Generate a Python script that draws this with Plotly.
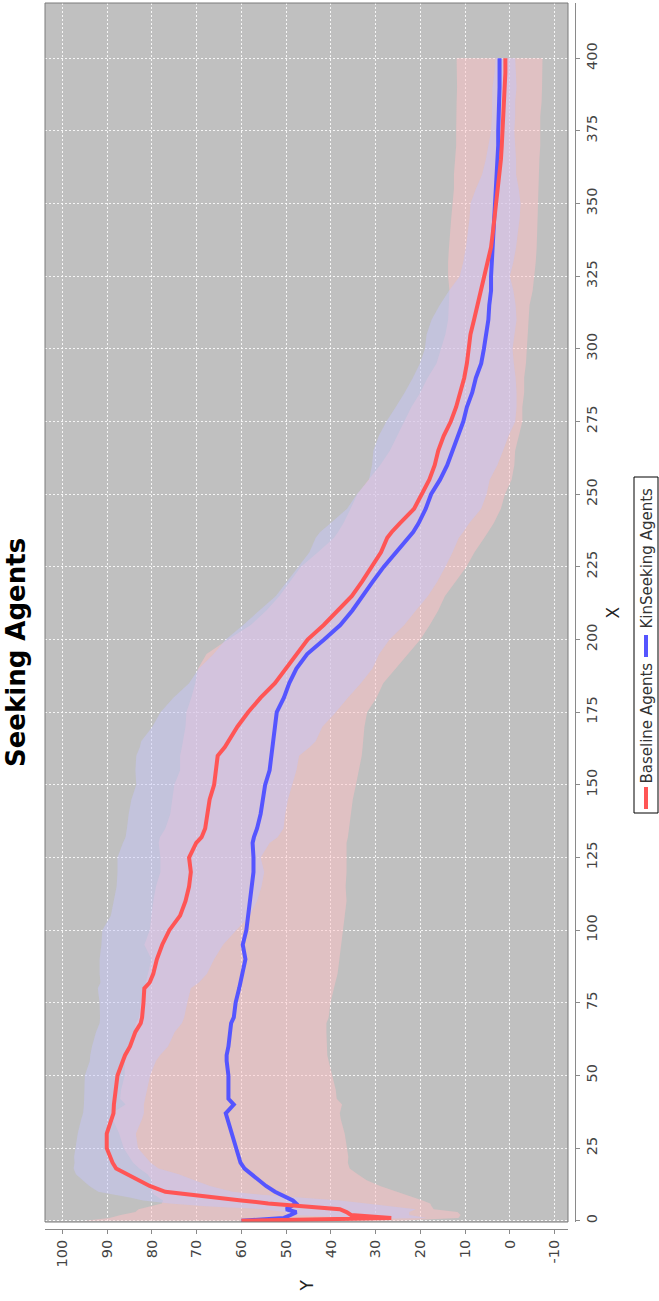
import numpy as np
import plotly.graph_objects as go

# ---- data ----
steps = [0, 1, 2, 3, 4, 5, 6, 7, 8, 9, 10, 12, 14, 16, 18, 20, 22, 25, 30, 35, 37, 40, 42, 45,
         50, 55, 57, 60, 65, 68, 70, 75, 80, 82, 85, 90, 95, 100, 105, 110, 115, 120, 125,
         130, 132, 135, 140, 145, 150, 155, 160, 163, 165, 170, 175, 180, 185, 190, 195, 200,
         205, 210, 215, 220, 225, 230, 235, 237, 240, 245, 250, 255, 260, 265, 270, 275, 280,
         285, 290, 295, 300, 305, 310, 315, 320, 325, 330, 335, 340, 345, 350, 355, 360, 365,
         370, 375, 380, 385, 390, 395, 400]

baseline_mean = [60, 26.5, 35.5, 36.5, 38, 47, 54, 60, 66, 72, 77, 80.5, 83, 85.5, 88, 88.8, 89.4,
                 90.1, 90.1, 89, 88.6, 88.5, 88.3, 88.1, 87.7, 86.5, 86, 84.9, 83.7, 82.5, 82.2,
                 81.9, 81.7, 80.5, 79.7, 78.9, 77.7, 76.1, 73.7, 72.5, 71.7, 71.3, 71.7, 70.1,
                 68.9, 68.1, 67.7, 67.1, 66.1, 65.7, 65.3, 63.7, 62.9, 60.9, 58.5, 55.7, 52.5,
                 50.1, 47.7, 45.2, 41.6, 38.5, 35.3, 33.0, 30.9, 28.8, 27.4, 26.4, 24.6, 21.4,
                 19.7, 18.0, 16.8, 16.0, 14.8, 13.2, 12.0, 11.0, 10.2, 9.6, 9.2, 8.8, 8.0, 7.2,
                 6.4, 5.6, 4.8, 4.2, 3.8, 3.4, 3.2, 2.8, 2.4, 2.0, 1.8, 1.6, 1.4, 1.4, 1.2, 1.0, 1.0]
baseline_std = [0.5, 8, 13, 14, 17, 21, 22, 22, 19, 16.5, 15, 13.5, 12.5, 11.5, 9.5, 8.5, 8, 7,
                6.5, 6.8, 6.8, 6.7, 6.8, 7, 7.3, 7.4, 7.8, 8.5, 8.8, 9.2, 9.4, 9.8, 10.4, 11, 12,
                12.8, 13.6, 15, 15.5, 16, 16.2, 16.4, 16, 16.4, 17, 17.5, 17.5, 17.5, 17.4, 18,
                18.2, 19, 19.5, 19, 19.6, 19.5, 19.2, 19.4, 18.5, 18.3, 18, 17.5, 17, 16.8, 16.5,
                16, 16, 16, 15.5, 15, 14.5, 13.5, 14, 14.5, 14.5, 14.4, 13.5, 12.5, 11.5, 10.5,
                9.8, 9.8, 9.5, 8.5, 7.2, 5.6, 5.6, 5.6, 5.6, 5.6, 5.6, 4.8, 3.8, 3.4, 3.0, 2.6,
                2.6, 2.6, 2.7, 2.4, 2.2]

kin_mean = [60, 50.5, 49, 47.7, 50, 49, 47.8, 48.5, 50, 51.5, 52.5, 54.5, 56, 57.5, 59.3, 60.2,
            60.6, 61.3, 62.1, 63.3, 63.5, 61.7, 62.9, 62.9, 62.9, 63.3, 63.3, 62.9, 62.5, 62.3,
            61.7, 61.3, 60.5, 60.2, 59.7, 59.1, 59.7, 58.9, 58.5, 58.1, 57.9, 57.3, 57.3, 57.5,
            57.2, 56.5, 55.7, 55.3, 54.7, 53.7, 53.4, 53.1, 52.9, 52.5, 52.1, 50.5, 49.3, 47.7,
            45.3, 41.5, 37.9, 35.2, 33.0, 30.6, 28.2, 25.4, 22.5, 21.6, 20.4, 18.8, 17.6, 15.6,
            14.0, 12.8, 11.6, 10.4, 9.6, 8.4, 7.6, 6.4, 5.8, 5.2, 4.8, 4.6, 4.2, 4.2, 4.0, 3.8,
            3.6, 3.4, 3.2, 3.0, 3.0, 2.8, 2.6, 2.6, 2.6, 2.4, 2.3, 2.3, 2.3]
kin_std = [35, 39, 38, 36, 33, 31.5, 30, 29, 28.5, 28, 27.5, 25.5, 24, 23.5, 23.5, 24, 24.5, 25,
           25.2, 25.5, 25.5, 24.2, 24.2, 24, 23.2, 22.8, 22.5, 22, 21.5, 21.3, 21.2, 21.2, 21.2,
           21.2, 21.2, 21, 22, 21.6, 21.6, 21.6, 21.2, 20.8, 20.8, 21, 21, 20.5, 20.2, 20.2,
           20.3, 20, 20.3, 20.2, 20.2, 20, 20.2, 20.7, 21, 22, 22.5, 21.5, 20, 19.2, 18.5, 18.5,
           18.5, 17.5, 16.8, 16.8, 16.8, 16.8, 16.5, 16, 15, 14, 13.6, 13.2, 12.4, 11.6, 10.8,
           10, 9.6, 9.2, 9, 9, 9.3, 9.6, 9.8, 9.8, 9.8, 9.7, 9.6, 9.5, 9.5, 9.4, 9.4, 9.4, 9.4,
           9.5, 9.5, 9.6, 9.6]

y_ticks = list(range(-10, 101, 10))
x_ticks = list(range(0, 401, 25))

series_names = ["Baseline Agents", "KinSeeking Agents"]
line_colors = ["#FF5555", "#5555FF"]
band_colors = ["rgba(198,198,248,0.5)", "rgba(255,194,198,0.5)"]

# ---- figure geometry (page pixels) ----
W, H = 659, 1301
ML, MR, MT, MB = 45, 84, 3, 72
PW = W - ML - MR
PH = H - MT - MB


def px(xpix):
    return (xpix - ML) / PW


def py(ypix):
    return (H - MB - ypix) / PH


X = np.array(steps, dtype=float)
bm, bs = np.array(baseline_mean), np.array(baseline_std)
km, ks = np.array(kin_mean), np.array(kin_std)

fig = go.Figure()


def band(mean, std, color):
    hi = mean + std
    lo = mean - std
    return go.Scatter(x=np.concatenate([hi, lo[::-1]]), y=np.concatenate([X, X[::-1]]),
                      fill="toself", fillcolor=color, mode="lines",
                      line=dict(width=0, color="rgba(0,0,0,0)"),
                      hoverinfo="skip", showlegend=False)


fig.add_trace(band(km, ks, band_colors[1]))
fig.add_trace(band(bm, bs, band_colors[0]))
fig.add_trace(go.Scatter(x=km, y=X, mode="lines", name=series_names[1],
                         line=dict(color=line_colors[1], width=4), showlegend=False))
fig.add_trace(go.Scatter(x=bm, y=X, mode="lines", name=series_names[0],
                         line=dict(color=line_colors[0], width=4), showlegend=False))

tickfont = dict(family="DejaVu Sans", size=14.5, color="#444444")
axis_common = dict(showline=True, linecolor="#8a8a8a", linewidth=1, ticks="outside",
                   ticklen=4, tickcolor="#8a8a8a", tickangle=-90, tickfont=tickfont,
                   showgrid=True, gridcolor="rgba(255,255,255,0.85)", gridwidth=1,
                   griddash="2px,2px", zeroline=False, anchor="free")

fig.update_layout(
    width=W, height=H,
    margin=dict(l=ML, r=MR, t=MT, b=MB, pad=0),
    paper_bgcolor="white", plot_bgcolor="#C0C0C0",
    showlegend=False,
    xaxis=dict(domain=[0, px(568)], range=[103.9, -13.0], position=0,
               tickvals=y_ticks, ticktext=[str(v) for v in y_ticks], **axis_common),
    yaxis=dict(domain=[py(1222), 1], range=[-0.4, 419], position=1, side="right",
               tickvals=x_ticks, ticktext=[str(v) for v in x_ticks], **axis_common),
)

# plot border
fig.add_shape(type="rect", xref="x domain", yref="y domain", x0=0, x1=1, y0=0, y1=1,
              line=dict(color="#7a7a7a", width=1), fillcolor="rgba(0,0,0,0)", layer="above")

# titles
fig.add_annotation(text="<b>Seeking Agents</b>", xref="paper", yref="paper", x=px(16), y=py(653),
                   textangle=-90, showarrow=False, xanchor="center", yanchor="middle",
                   font=dict(family="DejaVu Sans", size=26, color="black"))
fig.add_annotation(text="X", xref="paper", yref="y domain", x=px(612), y=0.5, textangle=-90,
                   showarrow=False, xanchor="center", yanchor="middle",
                   font=dict(family="DejaVu Sans", size=17, color="#222222"))
fig.add_annotation(text="Y", xref="x domain", yref="paper", x=0.5, y=py(1286), textangle=-90,
                   showarrow=False, xanchor="center", yanchor="middle",
                   font=dict(family="DejaVu Sans", size=17, color="#222222"))

# legend (rotated, drawn manually)
fig.add_shape(type="rect", xref="paper", yref="paper", x0=px(634), x1=px(658), y0=py(813),
              y1=py(477), line=dict(color="black", width=1), fillcolor="white", layer="above")
fig.add_shape(type="line", xref="paper", yref="paper", x0=px(646), x1=px(646), y0=py(809),
              y1=py(787), line=dict(color=line_colors[0], width=4), layer="above")
fig.add_shape(type="line", xref="paper", yref="paper", x0=px(646), x1=px(646), y0=py(657),
              y1=py(635), line=dict(color=line_colors[1], width=4), layer="above")
legfont = dict(family="DejaVu Sans", size=15, color="#333333")
fig.add_annotation(text=series_names[0], xref="paper", yref="paper", x=px(646), y=py(661),
                   textangle=-90, showarrow=False, xanchor="center", yanchor="top", font=legfont)
fig.add_annotation(text=series_names[1], xref="paper", yref="paper", x=px(646), y=py(631),
                   textangle=-90, showarrow=False, xanchor="center", yanchor="bottom", font=legfont)

fig.write_html("out.html")
